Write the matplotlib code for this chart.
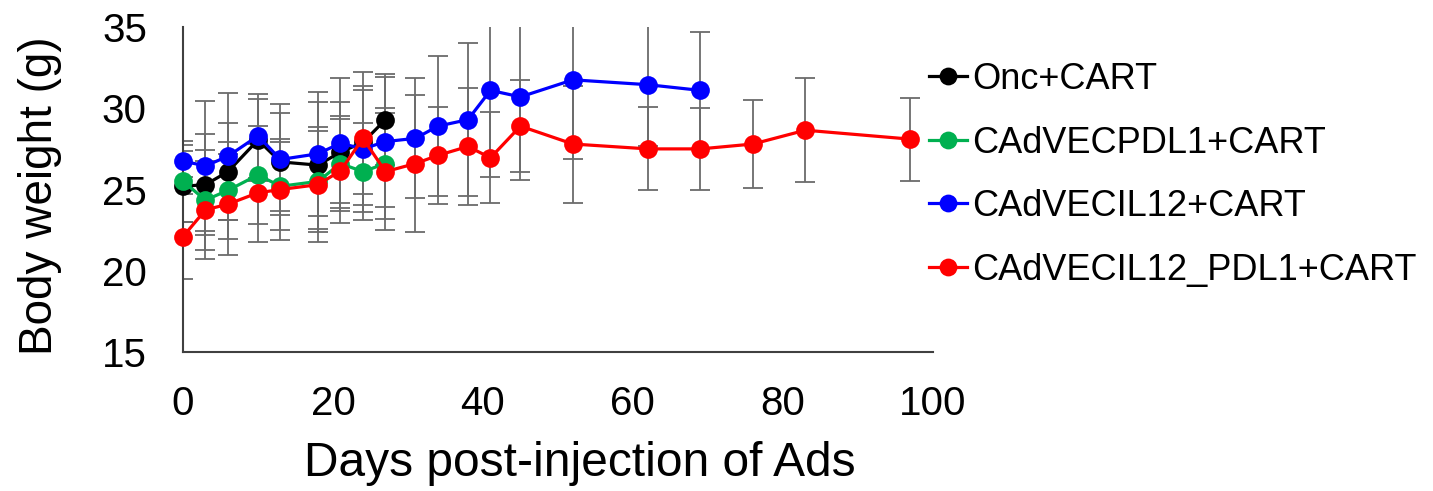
import matplotlib
matplotlib.use("Agg")
import matplotlib.pyplot as plt

plt.rcParams['font.family'] = ['Liberation Sans', 'DejaVu Sans']

# ---- data ----
labels = ["Onc+CART", "CAdVECPDL1+CART", "CAdVECIL12+CART", "CAdVECIL12_PDL1+CART"]
colors = ["#000000", "#00B050", "#0000FF", "#FF0000"]

days_onc = [0, 3, 6, 10, 13, 18, 21, 24, 27]
onc_mean = [25.2, 25.3, 26.1, 28.05, 26.7, 26.5, 27.3, 27.9, 29.3]
onc_sd = [2.2, 3.1, 3.0, 2.5, 3.0, 3.9, 3.1, 3.2, 2.8]

days_pdl1 = [0, 3, 6, 10, 13, 18, 21, 24, 27]
pdl1_mean = [25.5, 24.35, 24.95, 25.9, 25.2, 25.5, 26.6, 26.1, 26.6]
pdl1_sd = [2.5, 3.1, 3.0, 3.0, 2.7, 3.1, 2.9, 3.0, 3.4]

days_il12 = [0, 3, 6, 10, 13, 18, 21, 24, 27, 31, 34, 38, 41, 45, 52, 62, 69]
il12_mean = [26.75, 26.45, 27.05, 28.3, 26.85, 27.2, 27.85, 27.5, 27.95,
             28.15, 28.9, 29.3, 31.1, 30.7, 31.75, 31.45, 31.1]
il12_sd = [1.0, 4.0, 3.9, 2.6, 3.4, 3.8, 4.0, 3.9, 4.0,
           3.7, 4.3, 4.7, 5.3, 5.1, 4.9, 3.8, 3.6]

days_il12pdl1 = [0, 3, 6, 10, 13, 18, 21, 24, 27, 31, 34, 38, 41, 45, 52, 62, 69, 76, 83, 97]
il12pdl1_mean = [22.1, 23.75, 24.1, 24.8, 25.0, 25.3, 26.15, 28.15, 26.1, 26.6,
                 27.1, 27.65, 26.95, 28.9, 27.8, 27.5, 27.5, 27.8, 28.65, 28.1]
il12pdl1_sd = [2.6, 3.0, 3.1, 3.0, 3.1, 3.55, 3.2, 4.1, 3.6, 4.2,
               3.0, 3.6, 2.8, 2.85, 3.6, 2.55, 2.5, 2.7, 3.2, 2.55]

x_ticks = [0, 20, 40, 60, 80, 100]
y_ticks = [15, 20, 25, 30, 35]

series = [
    (days_onc, onc_mean, onc_sd),
    (days_pdl1, pdl1_mean, pdl1_sd),
    (days_il12, il12_mean, il12_sd),
    (days_il12pdl1, il12pdl1_mean, il12pdl1_sd),
]

fig = plt.figure(figsize=(14.33, 4.91), dpi=100)
ax = fig.add_axes([0.1277, 0.283, 0.5233, 0.662])

handles = []
for i, ((d, m, s), lab, col) in enumerate(zip(series, labels, colors)):
    ax.errorbar(d, m, yerr=s, fmt='none', ecolor='#6b6b6b', elinewidth=1.3,
                capsize=7, capthick=1.3, zorder=2 + i * 0.1)
    ln, = ax.plot(d, m, '-o', color=col, lw=2.3, markersize=13.5,
                  markeredgewidth=0, label=lab, zorder=5 + i, clip_on=False)
    handles.append(ln)

ax.set_xlim(0, 100)
ax.set_ylim(15, 35)
ax.set_xticks(x_ticks)
ax.set_yticks(y_ticks)
ax.tick_params(axis='both', length=0, labelsize=29)
ax.tick_params(axis='y', pad=26)
ax.tick_params(axis='x', pad=24)
for sp in ['top', 'right']:
    ax.spines[sp].set_visible(False)
for sp in ['left', 'bottom']:
    ax.spines[sp].set_color('#404040')
    ax.spines[sp].set_linewidth(1.5)

ax.set_ylabel("Body weight (g)", fontsize=33)
ax.set_xlabel("Days post-injection of Ads", fontsize=34.5)
# label placement (axes fraction)
ax.yaxis.set_label_coords(-0.162, 0.48)
ax.xaxis.set_label_coords(0.529, -0.275)

fig.legend(handles=handles, labels=labels, loc='upper left',
           bbox_to_anchor=(0.638, 0.903), frameon=False, fontsize=26,
           handlelength=1.05, handletextpad=0.15, labelspacing=0.79,
           markerscale=0.95, borderaxespad=0)

fig.savefig("out.png", dpi=100)
